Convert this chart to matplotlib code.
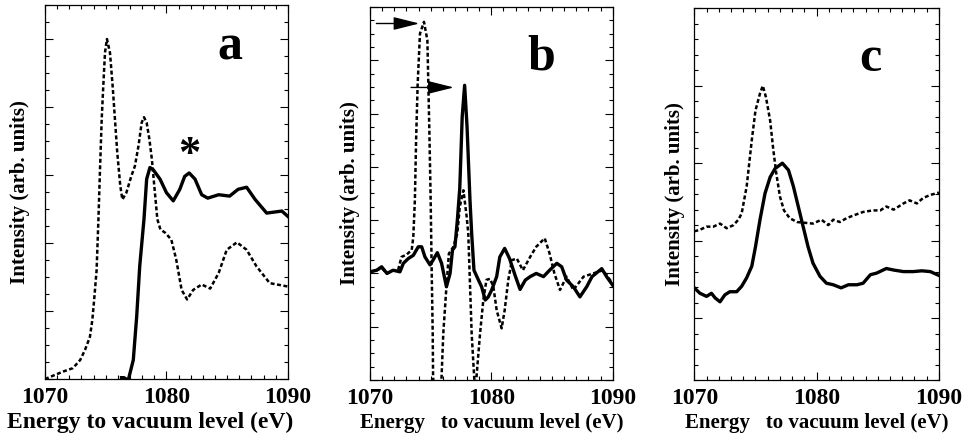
import matplotlib
matplotlib.use('Agg')
import matplotlib.pyplot as plt
from matplotlib.ticker import MultipleLocator

plt.rcParams['font.family'] = 'serif'
plt.rcParams['font.serif'] = ['Liberation Serif', 'DejaVu Serif']
plt.rcParams['font.weight'] = 'bold'

# panel a
a_dot_x = [1070.0, 1071.5, 1072.3, 1072.9, 1073.3, 1073.7, 1073.9, 1074.05, 1074.25, 1074.4,
           1074.53, 1074.67, 1074.8, 1074.94, 1075.1, 1075.35, 1075.57, 1075.76, 1075.95, 1076.2,
           1076.37, 1076.7, 1077.1, 1077.4, 1077.7, 1077.96, 1078.15, 1078.37, 1078.6, 1078.8,
           1079.05, 1079.25, 1079.5, 1079.9, 1080.4, 1080.8, 1081.25, 1081.7, 1082.2, 1082.9,
           1083.6, 1084.3, 1084.96, 1085.8, 1086.6, 1087.4, 1088.5, 1090.0]
a_dot_y = [0.0, 0.11, 0.16, 0.28, 0.43, 0.62, 0.87, 1.17, 1.6, 2.35,
           3.08, 3.82, 4.31, 4.8, 5.0, 4.8, 4.31, 3.82, 3.33, 2.84,
           2.64, 2.74, 2.98, 3.13, 3.43, 3.77, 3.85, 3.77, 3.52, 3.23,
           2.74, 2.35, 2.2, 2.15, 2.05, 1.76, 1.31, 1.17, 1.31, 1.39,
           1.33, 1.56, 1.90, 2.01, 1.9, 1.66, 1.41, 1.36]
a_sol_x = [1076.3, 1076.5, 1076.85, 1077.27, 1077.55, 1077.8, 1078.15, 1078.37, 1078.64, 1078.9,
           1079.47, 1080.0, 1080.56, 1081.1, 1081.5, 1081.87, 1082.35, 1082.9, 1083.4, 1084.3,
           1085.2, 1085.9, 1086.6, 1087.3, 1088.25, 1089.5, 1090.0]
a_sol_y = [0.02, 0.02, -0.02, 0.28, 0.92, 1.66, 2.35, 2.94, 3.11, 3.08,
           2.94, 2.74, 2.62, 2.79, 2.98, 3.03, 2.94, 2.71, 2.66, 2.71,
           2.69, 2.79, 2.82, 2.64, 2.44, 2.47, 2.39]

# panel b
b_dot_x = [1070.0, 1070.55, 1070.96, 1071.4, 1071.9, 1072.3, 1072.6, 1073.0, 1073.44, 1073.57,
           1073.7, 1073.8, 1073.93, 1074.12, 1074.45, 1074.73, 1074.9, 1075.0, 1075.08, 1075.17,
           1075.2, 1075.55, 1075.9, 1076.04, 1076.3, 1076.5, 1076.87, 1077.2, 1077.4, 1077.7,
           1077.97, 1078.1, 1078.24, 1078.38, 1078.57, 1078.68, 1078.8, 1079.07, 1079.34, 1079.6,
           1079.9, 1080.17, 1080.44, 1080.85, 1081.1, 1081.4, 1081.7, 1082.1, 1082.6, 1083.2,
           1083.7, 1084.4, 1084.8, 1085.2, 1085.66, 1086.2, 1086.76, 1087.6, 1088.4, 1089.2,
           1090.0]
b_dot_y = [2.03, 2.06, 2.1, 2.0, 2.06, 2.05, 2.31, 2.35, 2.44, 2.69,
           3.38, 4.5, 5.56, 6.5, 6.72, 6.375, 4.6, 3.38, 2.13, 0.87,
           0.06, -1.0, 0.06, 0.87, 1.75, 2.37, 2.5, 2.75, 3.25, 3.56,
           3.06, 2.75, 1.81, 0.87, 0.12, -0.3, 0.12, 0.87, 1.5, 1.88,
           1.9, 1.75, 1.31, 0.97, 1.31, 1.88, 2.25, 2.28, 2.06, 2.31,
           2.5, 2.66, 2.375, 2.0, 1.69, 1.94, 1.69, 1.94, 2.0, 2.06,
           1.81]
b_sol_x = [1070.0, 1070.55, 1070.96, 1071.4, 1071.9, 1072.47, 1072.75, 1073.16, 1073.57, 1073.98,
           1074.26, 1074.53, 1074.95, 1075.2, 1075.55, 1075.9, 1076.3, 1076.6, 1076.8, 1077.0,
           1077.2, 1077.4, 1077.6, 1077.8, 1078.0, 1078.24, 1078.38, 1078.57, 1078.93, 1079.2,
           1079.5, 1079.75, 1080.03, 1080.44, 1080.7, 1081.1, 1081.5, 1081.95, 1082.37, 1082.8,
           1083.2, 1083.7, 1084.3, 1084.8, 1085.4, 1085.8, 1086.2, 1086.76, 1087.3, 1087.86,
           1088.3, 1089.1, 1089.5, 1090.0]
b_sol_y = [2.03, 2.06, 2.125, 2.0, 2.06, 2.03, 2.19, 2.28, 2.34, 2.5,
           2.5, 2.31, 2.16, 2.25, 2.39, 2.19, 1.75, 2.0, 2.44, 2.5,
           3.0, 3.6, 4.94, 5.53, 4.75, 3.38, 2.75, 2.06, 1.88, 1.75,
           1.5, 1.56, 1.69, 1.94, 2.31, 2.47, 2.28, 1.97, 1.7, 1.875,
           1.94, 2.0, 1.94, 2.06, 2.19, 2.125, 1.875, 1.75, 1.56, 1.75,
           1.94, 2.09, 1.94, 1.78]

# panel c
c_dot_x = [1070.0, 1070.46, 1071.0, 1071.55, 1072.1, 1072.64, 1073.2, 1073.6, 1073.87, 1074.28,
           1074.7, 1075.0, 1075.37, 1075.6, 1075.86, 1076.2, 1076.46, 1076.7, 1077.0, 1077.33,
           1077.8, 1078.4, 1079.05, 1079.7, 1080.4, 1080.95, 1081.36, 1081.9, 1082.45, 1083.1,
           1083.8, 1084.6, 1085.2, 1085.7, 1086.3, 1087.1, 1087.6, 1088.2, 1088.7, 1089.3,
           1090.0]
c_dot_y = [2.12, 2.14, 2.18, 2.18, 2.22, 2.16, 2.2, 2.27, 2.35, 2.7,
           3.3, 3.68, 3.9, 4.0, 3.85, 3.55, 3.17, 2.87, 2.57, 2.39,
           2.29, 2.24, 2.23, 2.22, 2.27, 2.2, 2.27, 2.24, 2.29, 2.33,
           2.37, 2.39, 2.39, 2.44, 2.4, 2.48, 2.52, 2.48, 2.55, 2.59,
           2.62]
c_sol_x = [1070.0, 1070.46, 1071.0, 1071.4, 1071.7, 1072.1, 1072.5, 1072.9, 1073.46, 1073.87,
           1074.28, 1074.7, 1075.0, 1075.37, 1075.78, 1076.2, 1076.6, 1077.2, 1077.7, 1078.1,
           1078.5, 1078.9, 1079.3, 1079.7, 1080.27, 1080.8, 1081.36, 1082.0, 1082.6, 1083.3,
           1083.8, 1084.4, 1084.9, 1085.7, 1086.3, 1087.1, 1087.9, 1088.6, 1089.3, 1090.0]
c_sol_y = [1.39, 1.32, 1.28, 1.32, 1.26, 1.21, 1.3, 1.34, 1.34, 1.41,
           1.52, 1.67, 1.92, 2.27, 2.61, 2.82, 2.93, 3.0, 2.91, 2.7,
           2.44, 2.18, 1.92, 1.71, 1.54, 1.45, 1.43, 1.39, 1.43, 1.43,
           1.45, 1.56, 1.58, 1.64, 1.62, 1.6, 1.6, 1.61, 1.6, 1.55]

fig = plt.figure(figsize=(9.63, 4.36), dpi=100)
ax_a = fig.add_axes([0.0467, 0.1307, 0.2523, 0.8578])
ax_b = fig.add_axes([0.3842, 0.1284, 0.2520, 0.8556])
ax_c = fig.add_axes([0.7210, 0.1284, 0.2540, 0.8526])

dot = dict(color='black', lw=1.8, ls=(0, (1.6, 1.0)))
sol = dict(color='black', lw=2.4, ls='-')

ax_a.plot(a_dot_x, a_dot_y, **dot)
ax_a.plot(a_sol_x, a_sol_y, **sol)
ax_b.plot(b_dot_x, b_dot_y, **dot)
ax_b.plot(b_sol_x, b_sol_y, **sol)
ax_c.plot(c_dot_x, c_dot_y, **dot)
ax_c.plot(c_sol_x, c_sol_y, **sol)

ax_a.set_ylim(0, 5.5)
ax_b.set_ylim(0, 7.0)
ax_c.set_ylim(0.2, 5.0)
ax_a.yaxis.set_minor_locator(MultipleLocator(0.25))
ax_b.yaxis.set_minor_locator(MultipleLocator(0.25))
ax_c.yaxis.set_minor_locator(MultipleLocator(0.2))

xlabels = ["Energy to vacuum level (eV)",
           "Energy   to vacuum level (eV)",
           "Energy   to vacuum level (eV)"]
xlab_x = [0.432, 0.5, 0.5]
xlab_size = [17, 15, 15]
ylab_pad = [5, 1, 1]
for ax, xl, lx, ls_, yp in zip([ax_a, ax_b, ax_c], xlabels, xlab_x, xlab_size, ylab_pad):
    ax.set_xlim(1070, 1090)
    ax.set_xticks([1070, 1080, 1090])
    ax.xaxis.set_minor_locator(MultipleLocator(1))
    ax.yaxis.set_major_locator(MultipleLocator(1))
    ax.tick_params(which='both', direction='in', top=True, right=True, width=0.8)
    ax.tick_params(which='major', length=6, labelsize=17, pad=6)
    ax.tick_params(which='minor', length=3)
    ax.set_yticklabels([])
    for lab in ax.get_xticklabels():
        lab.set_fontweight('bold')
    for s in ax.spines.values():
        s.set_linewidth(0.9)
    ax.set_xlabel(xl, fontsize=ls_, fontweight='bold')
    ax.xaxis.set_label_coords(lx, -0.088)
    ax.set_ylabel("Intensity (arb. units)", fontsize=15, fontweight='bold', labelpad=yp)

ax_a.text(1085.2, 4.88, "a", fontsize=36, fontweight='bold', ha='center', va='center')
ax_a.text(1081.85, 3.3, "*", fontsize=32, fontweight='bold', ha='center', va='center')
ax_b.text(1084.1, 6.06, "b", fontsize=36, fontweight='bold', ha='center', va='center')
ax_c.text(1084.4, 4.35, "c", fontsize=36, fontweight='bold', ha='center', va='center')

arrow = dict(arrowstyle='-|>,head_length=1.6,head_width=0.4', color='black', lw=1.0)
ax_b.annotate("", xy=(1074.3, 6.69), xytext=(1070.3, 6.69), arrowprops=arrow)
ax_b.annotate("", xy=(1077.14, 5.49), xytext=(1073.16, 5.49), arrowprops=arrow)

fig.savefig('out.png', dpi=100)
